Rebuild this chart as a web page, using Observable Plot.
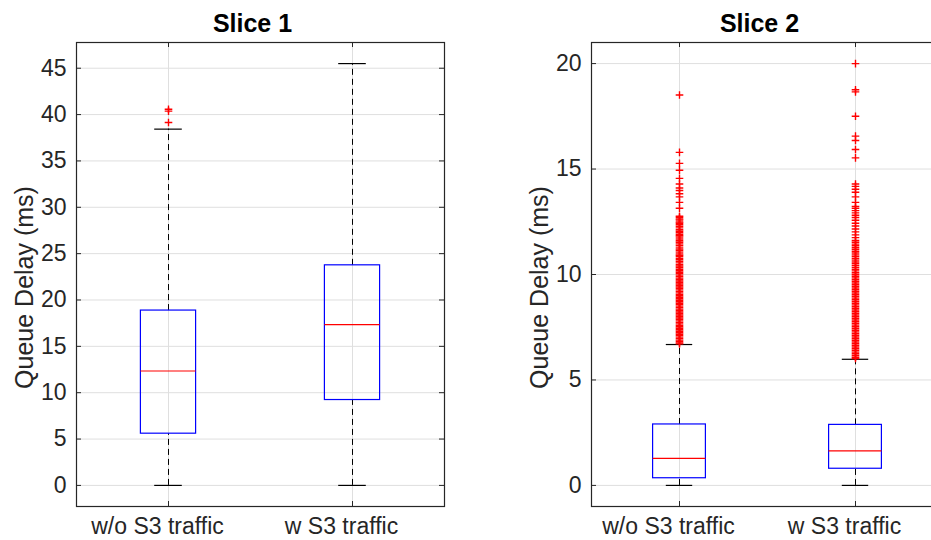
<!DOCTYPE html>
<html>
<head>
<meta charset="utf-8">
<script src="https://cdn.jsdelivr.net/npm/d3@7"></script>
<script src="https://cdn.jsdelivr.net/npm/@observablehq/plot@0.6"></script>
<style>
  html, body { margin: 0; padding: 0; background: #fff; overflow: hidden; }
  #figure { position: relative; width: 931px; height: 540px; overflow: hidden; }
  #figure > div { position: absolute; top: 0; }
  #figure svg { max-width: none !important; display: block; }
</style>
</head>
<body>
<div id="figure">
  <div id="slice1" style="left:0px;width:460px"></div>
  <div id="slice2" style="left:460px;width:493px"></div>
</div>
<script>
// Categories shared by both panels
const categories = ["w/o S3 traffic", "w S3 traffic"];
const yLabel = "Queue Delay (ms)";

// Slice 1 box statistics (ms), one value per category
const s1Q1 = [5.58, 9.21];
const s1Median = [12.34, 17.35];
const s1Q3 = [18.86, 23.74];
const s1WhiskerLow = [0, 0];
const s1WhiskerHigh = [38.43, 45.5];
const s1OutliersWithout = [40.58, 40.37, 39.15];
const s1OutliersWith = [];
const s1Ticks = [0, 5, 10, 15, 20, 25, 30, 35, 40, 45];

// Slice 2 box statistics (ms)
const s2Q1 = [0.34, 0.79];
const s2Median = [1.28, 1.64];
const s2Q3 = [2.89, 2.87];
const s2WhiskerLow = [0, 0];
const s2WhiskerHigh = [6.68, 5.98];
const s2Ticks = [0, 5, 10, 15, 20];

// Slice 2 outliers, without S3 traffic
const s2OutliersWithout = [
  18.51, 15.79, 15.27, 14.94, 14.56, 14.29, 14.1, 13.98, 13.83, 13.68, 13.42, 13.14,
  12.76, 12.71, 12.63, 12.58, 12.49, 12.43, 12.36, 12.28, 12.21, 12.12, 12.05, 11.98,
  11.9, 11.84, 11.77, 11.68, 11.6, 11.53, 11.45, 11.38, 11.3, 11.21, 11.14, 11.06,
  10.98, 10.91, 10.86, 10.77, 10.7, 10.62, 10.55, 10.47, 10.4, 10.33, 10.25, 10.18,
  10.11, 10.04, 9.97, 9.9, 9.83, 9.76, 9.69, 9.62, 9.55, 9.48, 9.41, 9.34, 9.27, 9.2,
  9.13, 9.06, 8.99, 8.92, 8.85, 8.78, 8.71, 8.64, 8.57, 8.5, 8.43, 8.36, 8.29, 8.22,
  8.15, 8.08, 8.01, 7.94, 7.87, 7.8, 7.73, 7.66, 7.59, 7.52, 7.45, 7.38, 7.31, 7.24,
  7.17, 7.1, 7.03, 6.96, 6.89, 6.82, 6.76, 6.71
];

// Slice 2 outliers, with S3 traffic
const s2OutliersWith = [
  20.0, 18.76, 18.66, 17.5, 16.56, 16.35, 15.93, 15.53, 14.29, 14.18, 14.04, 13.9,
  13.68, 13.42, 13.23, 13.14, 13.03, 12.92, 12.81, 12.7, 12.57, 12.43, 12.3, 12.16,
  12.02, 11.88, 11.75, 11.61, 11.53, 11.44, 11.36, 11.27, 11.19, 11.1, 11.02, 10.93,
  10.85, 10.76, 10.68, 10.59, 10.51, 10.42, 10.34, 10.25, 10.17, 10.08, 10.0, 9.92,
  9.84, 9.76, 9.68, 9.6, 9.52, 9.44, 9.36, 9.28, 9.2, 9.12, 9.04, 8.96, 8.88, 8.8,
  8.72, 8.64, 8.56, 8.48, 8.4, 8.32, 8.24, 8.16, 8.08, 8.0, 7.92, 7.84, 7.76, 7.68,
  7.6, 7.52, 7.44, 7.36, 7.28, 7.2, 7.12, 7.04, 6.96, 6.88, 6.8, 6.72, 6.64, 6.56,
  6.48, 6.4, 6.32, 6.24, 6.16, 6.08, 6.02
];

// Thin "+" marker used for outliers
const plusSymbol = {
  draw(context, size) {
    const r = Math.sqrt(size / Math.PI);
    context.moveTo(-r, 0); context.lineTo(r, 0);
    context.moveTo(0, -r); context.lineTo(0, r);
  }
};

const axisColor = "#262626";
const gridColor = "#dfdfdf";

function panel({title, yDomain, yTicks, q1, median, q3, lo, hi, outliers, width, marginLeft, marginRight}) {
  const marginTop = 42, marginBottom = 34, height = 540;
  const frameW = width - marginLeft - marginRight;
  const frameH = height - marginTop - marginBottom;
  const positions = categories.map((_, i) => i + 1);
  const boxHalf = 0.15, capHalf = 0.075;
  const stats = categories.map((c, i) => ({
    pos: i + 1, q1: q1[i], median: median[i], q3: q3[i], lo: lo[i], hi: hi[i]
  }));
  const outlierRows = outliers.flatMap((vals, i) => vals.map(v => ({pos: i + 1, value: v})));

  return Plot.plot({
    width, height, marginLeft, marginRight, marginTop, marginBottom,
    style: {fontFamily: "'Liberation Sans', Arial, Helvetica, sans-serif", color: axisColor, background: "#fff", overflow: "visible"},
    x: {domain: [0.5, 2.5], axis: null},
    y: {domain: yDomain, axis: null},
    marks: [
      Plot.gridY({ticks: yTicks, stroke: gridColor, strokeOpacity: 1}),
      Plot.gridX({ticks: positions, stroke: gridColor, strokeOpacity: 1}),
      // whiskers
      Plot.ruleX(stats, {x: "pos", y1: "q3", y2: "hi", stroke: "#000", strokeDasharray: "6,4"}),
      Plot.ruleX(stats, {x: "pos", y1: "lo", y2: "q1", stroke: "#000", strokeDasharray: "6,4"}),
      // whisker caps
      Plot.ruleY(stats, {y: "hi", x1: d => d.pos - capHalf, x2: d => d.pos + capHalf, stroke: "#000", strokeWidth: 1.2}),
      Plot.ruleY(stats, {y: "lo", x1: d => d.pos - capHalf, x2: d => d.pos + capHalf, stroke: "#000", strokeWidth: 1.2}),
      // boxes and medians
      Plot.rect(stats, {x1: d => d.pos - boxHalf, x2: d => d.pos + boxHalf, y1: "q1", y2: "q3", fill: "none", stroke: "#0000ff", strokeWidth: 1.2}),
      Plot.ruleY(stats, {y: "median", x1: d => d.pos - boxHalf, x2: d => d.pos + boxHalf, stroke: "#ff0000", strokeWidth: 1.2}),
      // outliers
      Plot.dot(outlierRows, {x: "pos", y: "value", symbol: plusSymbol, r: 3.8, stroke: "#ff0000", fill: "none", strokeWidth: 1.4}),
      // axes box with inward ticks
      Plot.frame({stroke: axisColor, strokeWidth: 1.2}),
      Plot.tickY(yTicks, {y: d => d, stroke: axisColor, insetRight: frameW - 5}),
      Plot.tickY(yTicks, {y: d => d, stroke: axisColor, insetLeft: frameW - 5}),
      Plot.tickX(positions, {x: d => d, stroke: axisColor, insetTop: frameH - 5}),
      Plot.tickX(positions, {x: d => d, stroke: axisColor, insetBottom: frameH - 5}),
      Plot.axisY({ticks: yTicks, tickSize: 0, tickPadding: 10, fontSize: 23, label: null}),
      Plot.axisX({ticks: positions, tickFormat: i => categories[i - 1], tickSize: 0, tickPadding: 11, fontSize: 23, label: null, dx: -11}),
      // title and y label
      Plot.text([title], {frameAnchor: "top", dy: -11, dx: -8, lineAnchor: "bottom", textAnchor: "middle", fontWeight: "bold", fontSize: 25, fill: "#000"}),
      Plot.text([yLabel], {frameAnchor: "left", rotate: -90, dx: -52, dy: 13, textAnchor: "middle", fontSize: 25, fill: axisColor})
    ]
  });
}

document.getElementById("slice1").append(panel({
  title: "Slice 1", yDomain: [-2.275, 47.775], yTicks: s1Ticks,
  q1: s1Q1, median: s1Median, q3: s1Q3, lo: s1WhiskerLow, hi: s1WhiskerHigh,
  outliers: [s1OutliersWithout, s1OutliersWith],
  width: 460, marginLeft: 76, marginRight: 16
}));

document.getElementById("slice2").append(panel({
  title: "Slice 2", yDomain: [-1, 21], yTicks: s2Ticks,
  q1: s2Q1, median: s2Median, q3: s2Q3, lo: s2WhiskerLow, hi: s2WhiskerHigh,
  outliers: [s2OutliersWithout, s2OutliersWith],
  width: 493, marginLeft: 131, marginRight: 10
}));
</script>
</body>
</html>
